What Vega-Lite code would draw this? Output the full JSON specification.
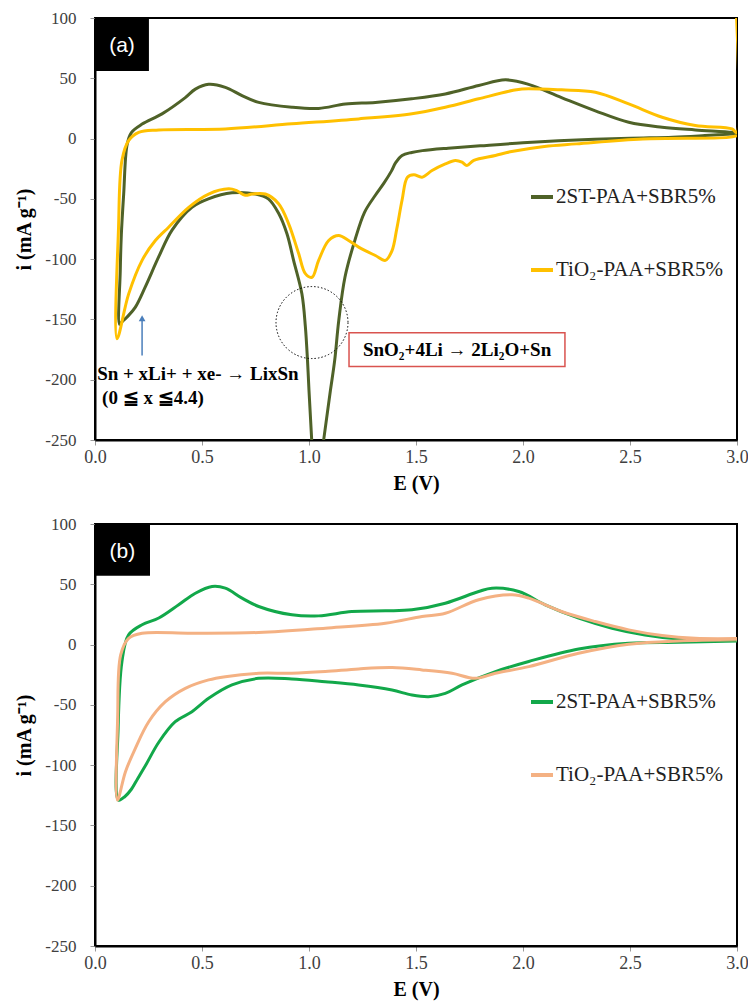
{
  "$schema": "https://vega.github.io/schema/vega-lite/v6.json",
  "background": "white",
  "padding": {"left": 13, "top": 8, "right": 5, "bottom": 5},
  "spacing": 84,
  "bounds": "flush",
  "datasets": {
    "a": [
      {"s": "2ST-PAA+SBR5%", "k": 1, "E": 3.0, "i": 4},
      {"s": "2ST-PAA+SBR5%", "k": 2, "E": 2.85, "i": 2.5},
      {"s": "2ST-PAA+SBR5%", "k": 3, "E": 2.7, "i": 1.2},
      {"s": "2ST-PAA+SBR5%", "k": 4, "E": 2.5, "i": 0.3},
      {"s": "2ST-PAA+SBR5%", "k": 5, "E": 2.25, "i": -1.2},
      {"s": "2ST-PAA+SBR5%", "k": 6, "E": 2.0, "i": -3.5},
      {"s": "2ST-PAA+SBR5%", "k": 7, "E": 1.8, "i": -6},
      {"s": "2ST-PAA+SBR5%", "k": 8, "E": 1.65, "i": -8},
      {"s": "2ST-PAA+SBR5%", "k": 9, "E": 1.53, "i": -10},
      {"s": "2ST-PAA+SBR5%", "k": 10, "E": 1.48, "i": -11.5},
      {"s": "2ST-PAA+SBR5%", "k": 11, "E": 1.435, "i": -14},
      {"s": "2ST-PAA+SBR5%", "k": 12, "E": 1.405, "i": -20},
      {"s": "2ST-PAA+SBR5%", "k": 13, "E": 1.385, "i": -27},
      {"s": "2ST-PAA+SBR5%", "k": 14, "E": 1.35, "i": -37},
      {"s": "2ST-PAA+SBR5%", "k": 15, "E": 1.31, "i": -47},
      {"s": "2ST-PAA+SBR5%", "k": 16, "E": 1.26, "i": -61},
      {"s": "2ST-PAA+SBR5%", "k": 17, "E": 1.215, "i": -84},
      {"s": "2ST-PAA+SBR5%", "k": 18, "E": 1.168, "i": -115},
      {"s": "2ST-PAA+SBR5%", "k": 19, "E": 1.139, "i": -151},
      {"s": "2ST-PAA+SBR5%", "k": 20, "E": 1.12, "i": -184},
      {"s": "2ST-PAA+SBR5%", "k": 21, "E": 1.1, "i": -209},
      {"s": "2ST-PAA+SBR5%", "k": 22, "E": 1.07, "i": -248},
      {"s": "2ST-PAA+SBR5%", "k": 23, "E": 1.03, "i": -300},
      {"s": "2ST-PAA+SBR5%", "k": 24, "E": 1.012, "i": -248},
      {"s": "2ST-PAA+SBR5%", "k": 25, "E": 1.0, "i": -209},
      {"s": "2ST-PAA+SBR5%", "k": 26, "E": 0.993, "i": -184},
      {"s": "2ST-PAA+SBR5%", "k": 27, "E": 0.983, "i": -156},
      {"s": "2ST-PAA+SBR5%", "k": 28, "E": 0.967, "i": -129},
      {"s": "2ST-PAA+SBR5%", "k": 29, "E": 0.928, "i": -101},
      {"s": "2ST-PAA+SBR5%", "k": 30, "E": 0.897, "i": -79},
      {"s": "2ST-PAA+SBR5%", "k": 31, "E": 0.858, "i": -62},
      {"s": "2ST-PAA+SBR5%", "k": 32, "E": 0.81, "i": -50},
      {"s": "2ST-PAA+SBR5%", "k": 33, "E": 0.75, "i": -46},
      {"s": "2ST-PAA+SBR5%", "k": 34, "E": 0.64, "i": -45},
      {"s": "2ST-PAA+SBR5%", "k": 35, "E": 0.53, "i": -50},
      {"s": "2ST-PAA+SBR5%", "k": 36, "E": 0.453, "i": -57},
      {"s": "2ST-PAA+SBR5%", "k": 37, "E": 0.36, "i": -76},
      {"s": "2ST-PAA+SBR5%", "k": 38, "E": 0.298, "i": -98},
      {"s": "2ST-PAA+SBR5%", "k": 39, "E": 0.235, "i": -123},
      {"s": "2ST-PAA+SBR5%", "k": 40, "E": 0.188, "i": -140},
      {"s": "2ST-PAA+SBR5%", "k": 41, "E": 0.15, "i": -148},
      {"s": "2ST-PAA+SBR5%", "k": 42, "E": 0.126, "i": -152},
      {"s": "2ST-PAA+SBR5%", "k": 43, "E": 0.115, "i": -154},
      {"s": "2ST-PAA+SBR5%", "k": 44, "E": 0.118, "i": -110},
      {"s": "2ST-PAA+SBR5%", "k": 45, "E": 0.123, "i": -80},
      {"s": "2ST-PAA+SBR5%", "k": 46, "E": 0.134, "i": -46},
      {"s": "2ST-PAA+SBR5%", "k": 47, "E": 0.15, "i": -5},
      {"s": "2ST-PAA+SBR5%", "k": 48, "E": 0.17, "i": 5},
      {"s": "2ST-PAA+SBR5%", "k": 49, "E": 0.22, "i": 12},
      {"s": "2ST-PAA+SBR5%", "k": 50, "E": 0.313, "i": 20.5},
      {"s": "2ST-PAA+SBR5%", "k": 51, "E": 0.422, "i": 34},
      {"s": "2ST-PAA+SBR5%", "k": 52, "E": 0.469, "i": 41},
      {"s": "2ST-PAA+SBR5%", "k": 53, "E": 0.531, "i": 45},
      {"s": "2ST-PAA+SBR5%", "k": 54, "E": 0.609, "i": 42.5},
      {"s": "2ST-PAA+SBR5%", "k": 55, "E": 0.687, "i": 35.7},
      {"s": "2ST-PAA+SBR5%", "k": 56, "E": 0.765, "i": 30},
      {"s": "2ST-PAA+SBR5%", "k": 57, "E": 0.92, "i": 26},
      {"s": "2ST-PAA+SBR5%", "k": 58, "E": 1.045, "i": 25},
      {"s": "2ST-PAA+SBR5%", "k": 59, "E": 1.17, "i": 28.7},
      {"s": "2ST-PAA+SBR5%", "k": 60, "E": 1.31, "i": 30},
      {"s": "2ST-PAA+SBR5%", "k": 61, "E": 1.48, "i": 33},
      {"s": "2ST-PAA+SBR5%", "k": 62, "E": 1.637, "i": 37},
      {"s": "2ST-PAA+SBR5%", "k": 63, "E": 1.793, "i": 44},
      {"s": "2ST-PAA+SBR5%", "k": 64, "E": 1.918, "i": 48.7},
      {"s": "2ST-PAA+SBR5%", "k": 65, "E": 2.026, "i": 45},
      {"s": "2ST-PAA+SBR5%", "k": 66, "E": 2.18, "i": 34},
      {"s": "2ST-PAA+SBR5%", "k": 67, "E": 2.338, "i": 23},
      {"s": "2ST-PAA+SBR5%", "k": 68, "E": 2.494, "i": 13.5},
      {"s": "2ST-PAA+SBR5%", "k": 69, "E": 2.65, "i": 9.4},
      {"s": "2ST-PAA+SBR5%", "k": 70, "E": 2.805, "i": 7.2},
      {"s": "2ST-PAA+SBR5%", "k": 71, "E": 2.977, "i": 5.2},
      {"s": "2ST-PAA+SBR5%", "k": 72, "E": 3.0, "i": 4.5},

      {"s": "TiO₂-PAA+SBR5%", "k": 1, "E": 3.0, "i": 2.5},
      {"s": "TiO₂-PAA+SBR5%", "k": 2, "E": 2.96, "i": 1},
      {"s": "TiO₂-PAA+SBR5%", "k": 3, "E": 2.56, "i": -0.3},
      {"s": "TiO₂-PAA+SBR5%", "k": 4, "E": 2.25, "i": -4.4},
      {"s": "TiO₂-PAA+SBR5%", "k": 5, "E": 2.1, "i": -6.5},
      {"s": "TiO₂-PAA+SBR5%", "k": 6, "E": 1.94, "i": -11},
      {"s": "TiO₂-PAA+SBR5%", "k": 7, "E": 1.871, "i": -14},
      {"s": "TiO₂-PAA+SBR5%", "k": 8, "E": 1.77, "i": -18},
      {"s": "TiO₂-PAA+SBR5%", "k": 9, "E": 1.738, "i": -22.4},
      {"s": "TiO₂-PAA+SBR5%", "k": 10, "E": 1.715, "i": -19.6},
      {"s": "TiO₂-PAA+SBR5%", "k": 11, "E": 1.684, "i": -18.2},
      {"s": "TiO₂-PAA+SBR5%", "k": 12, "E": 1.637, "i": -21},
      {"s": "TiO₂-PAA+SBR5%", "k": 13, "E": 1.575, "i": -26.5},
      {"s": "TiO₂-PAA+SBR5%", "k": 14, "E": 1.528, "i": -32},
      {"s": "TiO₂-PAA+SBR5%", "k": 15, "E": 1.49, "i": -30},
      {"s": "TiO₂-PAA+SBR5%", "k": 16, "E": 1.46, "i": -32},
      {"s": "TiO₂-PAA+SBR5%", "k": 17, "E": 1.435, "i": -51},
      {"s": "TiO₂-PAA+SBR5%", "k": 18, "E": 1.41, "i": -75},
      {"s": "TiO₂-PAA+SBR5%", "k": 19, "E": 1.388, "i": -93},
      {"s": "TiO₂-PAA+SBR5%", "k": 20, "E": 1.357, "i": -101},
      {"s": "TiO₂-PAA+SBR5%", "k": 21, "E": 1.31, "i": -97},
      {"s": "TiO₂-PAA+SBR5%", "k": 22, "E": 1.232, "i": -90},
      {"s": "TiO₂-PAA+SBR5%", "k": 23, "E": 1.185, "i": -84.5},
      {"s": "TiO₂-PAA+SBR5%", "k": 24, "E": 1.139, "i": -80.4},
      {"s": "TiO₂-PAA+SBR5%", "k": 25, "E": 1.092, "i": -84.5},
      {"s": "TiO₂-PAA+SBR5%", "k": 26, "E": 1.045, "i": -101},
      {"s": "TiO₂-PAA+SBR5%", "k": 27, "E": 1.014, "i": -115},
      {"s": "TiO₂-PAA+SBR5%", "k": 28, "E": 0.983, "i": -112},
      {"s": "TiO₂-PAA+SBR5%", "k": 29, "E": 0.952, "i": -95.6},
      {"s": "TiO₂-PAA+SBR5%", "k": 30, "E": 0.905, "i": -70.7},
      {"s": "TiO₂-PAA+SBR5%", "k": 31, "E": 0.858, "i": -54},
      {"s": "TiO₂-PAA+SBR5%", "k": 32, "E": 0.796, "i": -46},
      {"s": "TiO₂-PAA+SBR5%", "k": 33, "E": 0.734, "i": -46},
      {"s": "TiO₂-PAA+SBR5%", "k": 34, "E": 0.702, "i": -47},
      {"s": "TiO₂-PAA+SBR5%", "k": 35, "E": 0.66, "i": -43},
      {"s": "TiO₂-PAA+SBR5%", "k": 36, "E": 0.625, "i": -41.7},
      {"s": "TiO₂-PAA+SBR5%", "k": 37, "E": 0.531, "i": -46},
      {"s": "TiO₂-PAA+SBR5%", "k": 38, "E": 0.438, "i": -57},
      {"s": "TiO₂-PAA+SBR5%", "k": 39, "E": 0.344, "i": -73.5},
      {"s": "TiO₂-PAA+SBR5%", "k": 40, "E": 0.282, "i": -84.6},
      {"s": "TiO₂-PAA+SBR5%", "k": 41, "E": 0.22, "i": -101},
      {"s": "TiO₂-PAA+SBR5%", "k": 42, "E": 0.157, "i": -129},
      {"s": "TiO₂-PAA+SBR5%", "k": 43, "E": 0.103, "i": -166},
      {"s": "TiO₂-PAA+SBR5%", "k": 44, "E": 0.11, "i": -73.5},
      {"s": "TiO₂-PAA+SBR5%", "k": 45, "E": 0.126, "i": -18},
      {"s": "TiO₂-PAA+SBR5%", "k": 46, "E": 0.157, "i": -1.7},
      {"s": "TiO₂-PAA+SBR5%", "k": 47, "E": 0.204, "i": 5.2},
      {"s": "TiO₂-PAA+SBR5%", "k": 48, "E": 0.298, "i": 7.2},
      {"s": "TiO₂-PAA+SBR5%", "k": 49, "E": 0.609, "i": 8},
      {"s": "TiO₂-PAA+SBR5%", "k": 50, "E": 0.92, "i": 12.2},
      {"s": "TiO₂-PAA+SBR5%", "k": 51, "E": 1.232, "i": 16.3},
      {"s": "TiO₂-PAA+SBR5%", "k": 52, "E": 1.481, "i": 20.5},
      {"s": "TiO₂-PAA+SBR5%", "k": 53, "E": 1.637, "i": 26},
      {"s": "TiO₂-PAA+SBR5%", "k": 54, "E": 1.793, "i": 33},
      {"s": "TiO₂-PAA+SBR5%", "k": 55, "E": 1.949, "i": 39.8},
      {"s": "TiO₂-PAA+SBR5%", "k": 56, "E": 1.995, "i": 41.2},
      {"s": "TiO₂-PAA+SBR5%", "k": 57, "E": 2.18, "i": 40.4},
      {"s": "TiO₂-PAA+SBR5%", "k": 58, "E": 2.338, "i": 38.4},
      {"s": "TiO₂-PAA+SBR5%", "k": 59, "E": 2.494, "i": 28.7},
      {"s": "TiO₂-PAA+SBR5%", "k": 60, "E": 2.65, "i": 17.7},
      {"s": "TiO₂-PAA+SBR5%", "k": 61, "E": 2.805, "i": 10.8},
      {"s": "TiO₂-PAA+SBR5%", "k": 62, "E": 2.977, "i": 8},
      {"s": "TiO₂-PAA+SBR5%", "k": 63, "E": 2.998, "i": 5},
      {"s": "TiO₂-PAA+SBR5%", "k": 64, "E": 2.998, "i": 100}
    ],
    "b": [
      {"s": "2ST-PAA+SBR5%", "k": 1, "E": 3.0, "i": 3},
      {"s": "2ST-PAA+SBR5%", "k": 2, "E": 2.727, "i": 1.9},
      {"s": "2ST-PAA+SBR5%", "k": 3, "E": 2.494, "i": 1.1},
      {"s": "2ST-PAA+SBR5%", "k": 4, "E": 2.26, "i": -3.6},
      {"s": "2ST-PAA+SBR5%", "k": 5, "E": 2.027, "i": -14},
      {"s": "2ST-PAA+SBR5%", "k": 6, "E": 1.871, "i": -22.4},
      {"s": "2ST-PAA+SBR5%", "k": 7, "E": 1.715, "i": -33.5},
      {"s": "2ST-PAA+SBR5%", "k": 8, "E": 1.637, "i": -40.5},
      {"s": "2ST-PAA+SBR5%", "k": 9, "E": 1.559, "i": -43.2},
      {"s": "2ST-PAA+SBR5%", "k": 10, "E": 1.481, "i": -41.8},
      {"s": "2ST-PAA+SBR5%", "k": 11, "E": 1.388, "i": -37.7},
      {"s": "2ST-PAA+SBR5%", "k": 12, "E": 1.232, "i": -33.5},
      {"s": "2ST-PAA+SBR5%", "k": 13, "E": 1.076, "i": -30.8},
      {"s": "2ST-PAA+SBR5%", "k": 14, "E": 0.92, "i": -28.5},
      {"s": "2ST-PAA+SBR5%", "k": 15, "E": 0.765, "i": -28},
      {"s": "2ST-PAA+SBR5%", "k": 16, "E": 0.64, "i": -33.5},
      {"s": "2ST-PAA+SBR5%", "k": 17, "E": 0.531, "i": -44.6},
      {"s": "2ST-PAA+SBR5%", "k": 18, "E": 0.453, "i": -55.7},
      {"s": "2ST-PAA+SBR5%", "k": 19, "E": 0.375, "i": -64},
      {"s": "2ST-PAA+SBR5%", "k": 20, "E": 0.298, "i": -81},
      {"s": "2ST-PAA+SBR5%", "k": 21, "E": 0.24, "i": -99},
      {"s": "2ST-PAA+SBR5%", "k": 22, "E": 0.2, "i": -111},
      {"s": "2ST-PAA+SBR5%", "k": 23, "E": 0.17, "i": -120},
      {"s": "2ST-PAA+SBR5%", "k": 24, "E": 0.14, "i": -126},
      {"s": "2ST-PAA+SBR5%", "k": 25, "E": 0.11, "i": -129},
      {"s": "2ST-PAA+SBR5%", "k": 26, "E": 0.108, "i": -70},
      {"s": "2ST-PAA+SBR5%", "k": 27, "E": 0.126, "i": -14},
      {"s": "2ST-PAA+SBR5%", "k": 28, "E": 0.157, "i": 8},
      {"s": "2ST-PAA+SBR5%", "k": 29, "E": 0.22, "i": 16.4},
      {"s": "2ST-PAA+SBR5%", "k": 30, "E": 0.298, "i": 22},
      {"s": "2ST-PAA+SBR5%", "k": 31, "E": 0.391, "i": 33},
      {"s": "2ST-PAA+SBR5%", "k": 32, "E": 0.469, "i": 42.6},
      {"s": "2ST-PAA+SBR5%", "k": 33, "E": 0.547, "i": 48.2},
      {"s": "2ST-PAA+SBR5%", "k": 34, "E": 0.609, "i": 46.8},
      {"s": "2ST-PAA+SBR5%", "k": 35, "E": 0.687, "i": 38.5},
      {"s": "2ST-PAA+SBR5%", "k": 36, "E": 0.765, "i": 31.6},
      {"s": "2ST-PAA+SBR5%", "k": 37, "E": 0.92, "i": 24.7},
      {"s": "2ST-PAA+SBR5%", "k": 38, "E": 1.045, "i": 23.8},
      {"s": "2ST-PAA+SBR5%", "k": 39, "E": 1.2, "i": 27.4},
      {"s": "2ST-PAA+SBR5%", "k": 40, "E": 1.357, "i": 28},
      {"s": "2ST-PAA+SBR5%", "k": 41, "E": 1.481, "i": 28.8},
      {"s": "2ST-PAA+SBR5%", "k": 42, "E": 1.637, "i": 34.3},
      {"s": "2ST-PAA+SBR5%", "k": 43, "E": 1.793, "i": 44},
      {"s": "2ST-PAA+SBR5%", "k": 44, "E": 1.855, "i": 46.8},
      {"s": "2ST-PAA+SBR5%", "k": 45, "E": 1.98, "i": 44},
      {"s": "2ST-PAA+SBR5%", "k": 46, "E": 2.104, "i": 33},
      {"s": "2ST-PAA+SBR5%", "k": 47, "E": 2.26, "i": 21.9},
      {"s": "2ST-PAA+SBR5%", "k": 48, "E": 2.416, "i": 13.6},
      {"s": "2ST-PAA+SBR5%", "k": 49, "E": 2.57, "i": 8},
      {"s": "2ST-PAA+SBR5%", "k": 50, "E": 2.727, "i": 4.7},
      {"s": "2ST-PAA+SBR5%", "k": 51, "E": 3.0, "i": 4},

      {"s": "TiO₂-PAA+SBR5%", "k": 1, "E": 3.0, "i": 4},
      {"s": "TiO₂-PAA+SBR5%", "k": 2, "E": 2.727, "i": 3},
      {"s": "TiO₂-PAA+SBR5%", "k": 3, "E": 2.494, "i": 0.3},
      {"s": "TiO₂-PAA+SBR5%", "k": 4, "E": 2.26, "i": -7.2},
      {"s": "TiO₂-PAA+SBR5%", "k": 5, "E": 2.027, "i": -18.3},
      {"s": "TiO₂-PAA+SBR5%", "k": 6, "E": 1.871, "i": -23.8},
      {"s": "TiO₂-PAA+SBR5%", "k": 7, "E": 1.777, "i": -28},
      {"s": "TiO₂-PAA+SBR5%", "k": 8, "E": 1.668, "i": -23.8},
      {"s": "TiO₂-PAA+SBR5%", "k": 9, "E": 1.528, "i": -21},
      {"s": "TiO₂-PAA+SBR5%", "k": 10, "E": 1.388, "i": -19.1},
      {"s": "TiO₂-PAA+SBR5%", "k": 11, "E": 1.232, "i": -20.2},
      {"s": "TiO₂-PAA+SBR5%", "k": 12, "E": 1.076, "i": -22.4},
      {"s": "TiO₂-PAA+SBR5%", "k": 13, "E": 0.92, "i": -23.8},
      {"s": "TiO₂-PAA+SBR5%", "k": 14, "E": 0.765, "i": -23.8},
      {"s": "TiO₂-PAA+SBR5%", "k": 15, "E": 0.609, "i": -26.6},
      {"s": "TiO₂-PAA+SBR5%", "k": 16, "E": 0.531, "i": -29.3},
      {"s": "TiO₂-PAA+SBR5%", "k": 17, "E": 0.422, "i": -36.3},
      {"s": "TiO₂-PAA+SBR5%", "k": 18, "E": 0.329, "i": -47.4},
      {"s": "TiO₂-PAA+SBR5%", "k": 19, "E": 0.251, "i": -64},
      {"s": "TiO₂-PAA+SBR5%", "k": 20, "E": 0.188, "i": -86.2},
      {"s": "TiO₂-PAA+SBR5%", "k": 21, "E": 0.142, "i": -105.6},
      {"s": "TiO₂-PAA+SBR5%", "k": 22, "E": 0.105, "i": -129},
      {"s": "TiO₂-PAA+SBR5%", "k": 23, "E": 0.106, "i": -60},
      {"s": "TiO₂-PAA+SBR5%", "k": 24, "E": 0.12, "i": -8.6},
      {"s": "TiO₂-PAA+SBR5%", "k": 25, "E": 0.157, "i": 5.2},
      {"s": "TiO₂-PAA+SBR5%", "k": 26, "E": 0.22, "i": 9.4},
      {"s": "TiO₂-PAA+SBR5%", "k": 27, "E": 0.453, "i": 9.4},
      {"s": "TiO₂-PAA+SBR5%", "k": 28, "E": 0.765, "i": 10},
      {"s": "TiO₂-PAA+SBR5%", "k": 29, "E": 1.076, "i": 13.6},
      {"s": "TiO₂-PAA+SBR5%", "k": 30, "E": 1.357, "i": 17.7},
      {"s": "TiO₂-PAA+SBR5%", "k": 31, "E": 1.528, "i": 23.3},
      {"s": "TiO₂-PAA+SBR5%", "k": 32, "E": 1.637, "i": 26},
      {"s": "TiO₂-PAA+SBR5%", "k": 33, "E": 1.793, "i": 37.2},
      {"s": "TiO₂-PAA+SBR5%", "k": 34, "E": 1.949, "i": 41.3},
      {"s": "TiO₂-PAA+SBR5%", "k": 35, "E": 2.027, "i": 38.5},
      {"s": "TiO₂-PAA+SBR5%", "k": 36, "E": 2.18, "i": 27.4},
      {"s": "TiO₂-PAA+SBR5%", "k": 37, "E": 2.338, "i": 19.1},
      {"s": "TiO₂-PAA+SBR5%", "k": 38, "E": 2.494, "i": 12.2},
      {"s": "TiO₂-PAA+SBR5%", "k": 39, "E": 2.65, "i": 7.5},
      {"s": "TiO₂-PAA+SBR5%", "k": 40, "E": 2.805, "i": 5.2},
      {"s": "TiO₂-PAA+SBR5%", "k": 41, "E": 3.0, "i": 5}
    ]
  },
  "vconcat": [
    {
      "width": 642,
      "height": 422,
      "layer": [
        {
          "data": {"name": "a"},
          "mark": {"type": "line", "strokeWidth": 3, "clip": true, "interpolate": "catmull-rom"},
          "encoding": {
            "x": {"field": "E", "type": "quantitative", "scale": {"domain": [0, 3], "nice": false, "zero": false},
                  "axis": {"title": "E (V)", "values": [0, 0.5, 1, 1.5, 2, 2.5, 3], "format": ".1f"}},
            "y": {"field": "i", "type": "quantitative", "scale": {"domain": [-250, 100], "nice": false, "zero": false},
                  "axis": {"title": "i (mA g⁻¹)", "values": [-250, -200, -150, -100, -50, 0, 50, 100], "labelExpr": "toString(datum.value)"}},
            "color": {"field": "s", "type": "nominal",
                      "scale": {"domain": ["2ST-PAA+SBR5%", "TiO₂-PAA+SBR5%"], "range": ["#4F6228", "#FFC000"]},
                      "legend": {"orient": "none", "legendX": 434, "legendY": 166}},
            "order": {"field": "k", "type": "quantitative"}
          }
        },
        {
          "data": {"values": [{}]},
          "mark": {"type": "rect", "color": "#000000"},
          "encoding": {"x": {"datum": 0}, "x2": {"datum": 0.252}, "y": {"datum": 100}, "y2": {"datum": 56}}
        },
        {
          "data": {"values": [{}]},
          "mark": {"type": "text", "text": "(a)", "color": "#ffffff", "font": "Liberation Sans", "fontSize": 21, "align": "center", "baseline": "middle"},
          "encoding": {"x": {"datum": 0.126}, "y": {"datum": 77}}
        },
        {
          "data": {"values": [{}]},
          "mark": {"type": "rule", "color": "#4A7EBB", "strokeWidth": 1.5},
          "encoding": {"x": {"datum": 0.22}, "y": {"datum": -180}, "y2": {"datum": -150}}
        },
        {
          "data": {"values": [{}]},
          "mark": {"type": "point", "shape": "triangle-up", "filled": true, "color": "#4A7EBB", "size": 45, "opacity": 1},
          "encoding": {"x": {"datum": 0.22}, "y": {"datum": -149}}
        },
        {
          "data": {"values": [{}]},
          "mark": {"type": "text", "text": "Sn + xLi+ + xe- → LixSn", "font": "Liberation Serif", "fontWeight": "bold", "fontSize": 19, "align": "left", "baseline": "middle", "color": "#000"},
          "encoding": {"x": {"datum": 0.01}, "y": {"datum": -195}}
        },
        {
          "data": {"values": [{}]},
          "mark": {"type": "text", "text": "(0 ≦ x ≦4.4)", "font": "Liberation Serif", "fontWeight": "bold", "fontSize": 19, "align": "left", "baseline": "middle", "color": "#000"},
          "encoding": {"x": {"datum": 0.033}, "y": {"datum": -215}}
        },
        {
          "data": {"values": [{}]},
          "mark": {"type": "point", "shape": "circle", "filled": false, "stroke": "#000", "strokeWidth": 1, "strokeDash": [1.5, 2], "size": 5184, "opacity": 1},
          "encoding": {"x": {"datum": 1.014}, "y": {"datum": -152.6}}
        },
        {
          "data": {"values": [{}]},
          "mark": {"type": "rect", "fill": "#ffffff", "fillOpacity": 0, "stroke": "#D9534F", "strokeWidth": 1.5},
          "encoding": {"x": {"datum": 1.187}, "x2": {"datum": 2.196}, "y": {"datum": -161}, "y2": {"datum": -189}}
        },
        {
          "data": {"values": [{}]},
          "mark": {"type": "text", "text": "SnO₂+4Li → 2Li₂O+Sn", "font": "Liberation Serif", "fontWeight": "bold", "fontSize": 19, "align": "center", "baseline": "middle", "color": "#000"},
          "encoding": {"x": {"datum": 1.692}, "y": {"datum": -175}}
        }
      ]
    },
    {
      "width": 642,
      "height": 422,
      "layer": [
        {
          "data": {"name": "b"},
          "mark": {"type": "line", "strokeWidth": 3, "clip": true, "interpolate": "catmull-rom"},
          "encoding": {
            "x": {"field": "E", "type": "quantitative", "scale": {"domain": [0, 3], "nice": false, "zero": false},
                  "axis": {"title": "E (V)", "values": [0, 0.5, 1, 1.5, 2, 2.5, 3], "format": ".1f"}},
            "y": {"field": "i", "type": "quantitative", "scale": {"domain": [-250, 100], "nice": false, "zero": false},
                  "axis": {"title": "i (mA g⁻¹)", "values": [-250, -200, -150, -100, -50, 0, 50, 100], "labelExpr": "toString(datum.value)"}},
            "color": {"field": "s", "type": "nominal",
                      "scale": {"domain": ["2ST-PAA+SBR5%", "TiO₂-PAA+SBR5%"], "range": ["#12A84A", "#F4B183"]},
                      "legend": {"orient": "none", "legendX": 434, "legendY": 165}},
            "order": {"field": "k", "type": "quantitative"}
          }
        },
        {
          "data": {"values": [{}]},
          "mark": {"type": "rect", "color": "#000000"},
          "encoding": {"x": {"datum": 0}, "x2": {"datum": 0.257}, "y": {"datum": 100}, "y2": {"datum": 57}}
        },
        {
          "data": {"values": [{}]},
          "mark": {"type": "text", "text": "(b)", "color": "#ffffff", "font": "Liberation Sans", "fontSize": 21, "align": "center", "baseline": "middle"},
          "encoding": {"x": {"datum": 0.128}, "y": {"datum": 77}}
        }
      ]
    }
  ],
  "resolve": {"scale": {"color": "independent"}, "legend": {"color": "independent"}},
  "config": {
    "view": {"stroke": "#000000", "strokeWidth": 2},
    "axis": {
      "grid": false,
      "domainColor": "#000000",
      "domainWidth": 2,
      "tickColor": "#999999",
      "tickSize": 5,
      "labelFont": "Liberation Serif",
      "labelFontSize": 17,
      "labelColor": "#404040",
      "titleFont": "Liberation Serif",
      "titleFontSize": 20,
      "titleFontWeight": "bold",
      "titleColor": "#000000"
    },
    "axisX": {"labelPadding": 3, "titlePadding": 7, "labelFontSize": 18, "labelFlush": false},
    "axisY": {"labelPadding": 14, "titlePadding": 10},
    "legend": {
      "title": null,
      "symbolType": "stroke",
      "symbolSize": 484,
      "symbolStrokeWidth": 4,
      "labelFont": "Liberation Serif",
      "labelFontSize": 21,
      "labelColor": "#222222",
      "labelOffset": 1,
      "labelLimit": 400,
      "rowPadding": 50,
      "padding": 0
    }
  }
}
